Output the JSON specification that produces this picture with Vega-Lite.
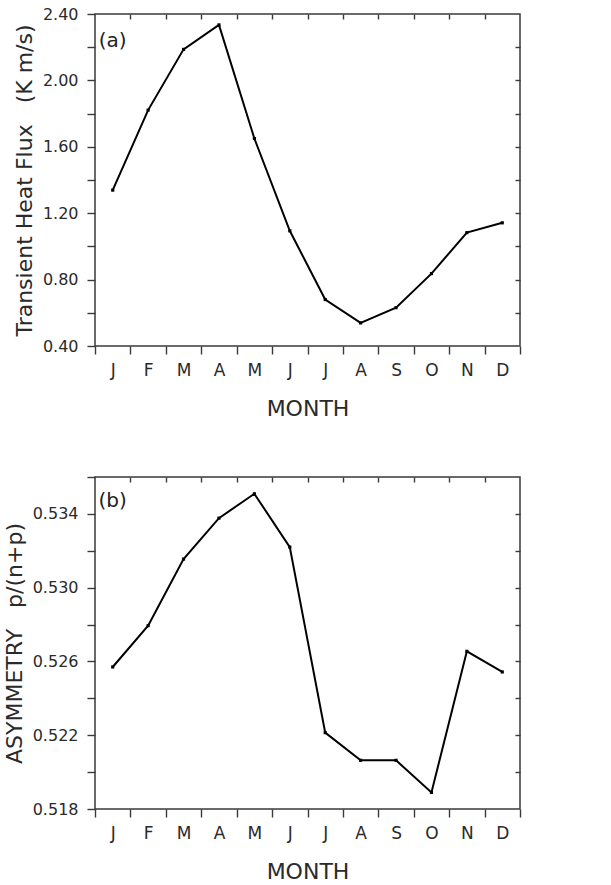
{
  "$schema": "https://vega.github.io/schema/vega-lite/v6.json",
  "padding": {"left": 2, "top": 5, "right": 5, "bottom": 2},
  "background": "white",
  "config": {
    "view": {"stroke": "#3a3a3a", "strokeWidth": 1.5},
    "font": "DejaVu Sans",
    "axis": {"grid": false, "domain": false, "tickColor": "#3a3a3a", "tickWidth": 1.4, "labelColor": "#2a2a2a", "titleColor": "#2a2a2a", "labelFont": "DejaVu Sans", "titleFont": "DejaVu Sans", "titleFontWeight": "normal", "labelFontSize": 16, "titleFontSize": 22, "labelFlush": false, "labelOverlap": false}
  },
  "datasets": {
    "d": [
      {"m": 1, "month": "Jan", "flux": 1.339, "asym": 0.5257},
      {"m": 2, "month": "Feb", "flux": 1.821, "asym": 0.52794},
      {"m": 3, "month": "Mar", "flux": 2.187, "asym": 0.53155},
      {"m": 4, "month": "Apr", "flux": 2.334, "asym": 0.53377},
      {"m": 5, "month": "May", "flux": 1.650, "asym": 0.53509},
      {"m": 6, "month": "Jun", "flux": 1.094, "asym": 0.5322},
      {"m": 7, "month": "Jul", "flux": 0.680, "asym": 0.52214},
      {"m": 8, "month": "Aug", "flux": 0.539, "asym": 0.52064},
      {"m": 9, "month": "Sep", "flux": 0.631, "asym": 0.52064},
      {"m": 10, "month": "Oct", "flux": 0.836, "asym": 0.5189},
      {"m": 11, "month": "Nov", "flux": 1.083, "asym": 0.52655},
      {"m": 12, "month": "Dec", "flux": 1.142, "asym": 0.52543}
    ]
  },
  "spacing": 48,
  "vconcat": [
    {
      "width": 425,
      "height": 332,
      "resolve": {"axis": {"x": "independent", "y": "independent"}},
      "layer": [
        {
          "data": {"name": "d"},
          "mark": {"type": "line", "color": "black", "strokeWidth": 2},
          "encoding": {
            "x": {"field": "m", "type": "quantitative", "scale": {"domain": [0.5, 12.5], "nice": false, "zero": false},
              "axis": {"orient": "bottom", "values": [0.5,1,1.5,2,2.5,3,3.5,4,4.5,5,5.5,6,6.5,7,7.5,8,8.5,9,9.5,10,10.5,11,11.5,12,12.5],
                "labelExpr": "datum.value % 1 === 0 ? ['J','F','M','A','M','J','J','A','S','O','N','D'][datum.value-1] : ''",
                "tickSize": 8, "tickOpacity": {"condition": {"test": "datum.value % 1 === 0", "value": 0}, "value": 1},
                "labelFontSize": 17, "labelPadding": 8, "title": "MONTH", "titleFontSize": 22, "titlePadding": 20}},
            "y": {"field": "flux", "type": "quantitative", "scale": {"domain": [0.4, 2.4], "nice": false, "zero": false},
              "axis": {"orient": "left", "values": [0.4,0.6,0.8,1.0,1.2,1.4,1.6,1.8,2.0,2.2,2.4],
                "labelExpr": "round(datum.value*10) % 4 === 0 ? format(datum.value, '.2f') : ''",
                "tickSize": 8, "labelPadding": 9, "title": "Transient Heat Flux\u00a0\u00a0\u00a0(K m/s)", "titlePadding": 6}}
          }
        },
        {
          "data": {"name": "d"},
          "mark": {"type": "point", "shape": "square", "filled": true, "color": "black", "size": 10, "opacity": 1},
          "encoding": {
            "x": {"field": "m", "type": "quantitative", "scale": {"domain": [0.5, 12.5], "nice": false, "zero": false},
              "axis": {"orient": "top", "values": [1.5,2.5,3.5,4.5,5.5,6.5,7.5,8.5,9.5,10.5,11.5], "labels": false, "tickSize": -5, "title": null}},
            "y": {"field": "flux", "type": "quantitative", "scale": {"domain": [0.4, 2.4], "nice": false, "zero": false},
              "axis": {"orient": "right", "values": [0.6,0.8,1.0,1.2,1.4,1.6,1.8,2.0,2.2], "labels": false, "tickSize": -5, "title": null}}
          }
        },
        {
          "data": {"values": [{"label": "(a)", "px": 1, "py": 2.24}]},
          "mark": {"type": "text", "fontSize": 20, "color": "#222", "align": "center", "baseline": "middle"},
          "encoding": {
            "text": {"field": "label"},
            "x": {"field": "px", "type": "quantitative", "axis": null},
            "y": {"field": "py", "type": "quantitative", "axis": null}
          }
        }
      ]
    },
    {
      "width": 425,
      "height": 332,
      "resolve": {"axis": {"x": "independent", "y": "independent"}},
      "layer": [
        {
          "data": {"name": "d"},
          "mark": {"type": "line", "color": "black", "strokeWidth": 2},
          "encoding": {
            "x": {"field": "m", "type": "quantitative", "scale": {"domain": [0.5, 12.5], "nice": false, "zero": false},
              "axis": {"orient": "bottom", "values": [0.5,1,1.5,2,2.5,3,3.5,4,4.5,5,5.5,6,6.5,7,7.5,8,8.5,9,9.5,10,10.5,11,11.5,12,12.5],
                "labelExpr": "datum.value % 1 === 0 ? ['J','F','M','A','M','J','J','A','S','O','N','D'][datum.value-1] : ''",
                "tickSize": 8, "tickOpacity": {"condition": {"test": "datum.value % 1 === 0", "value": 0}, "value": 1},
                "labelFontSize": 17, "labelPadding": 8, "title": "MONTH", "titleFontSize": 22, "titlePadding": 20}},
            "y": {"field": "asym", "type": "quantitative", "scale": {"domain": [0.518, 0.536], "nice": false, "zero": false},
              "axis": {"orient": "left", "values": [0.518,0.52,0.522,0.524,0.526,0.528,0.53,0.532,0.534,0.536],
                "labelExpr": "round(datum.value*1000) % 4 === 2 ? format(datum.value, '.3f') : ''",
                "tickSize": 8, "labelPadding": 9, "title": "ASYMMETRY\u00a0\u00a0\u00a0p/(n+p)", "titlePadding": 6}}
          }
        },
        {
          "data": {"name": "d"},
          "mark": {"type": "point", "shape": "square", "filled": true, "color": "black", "size": 10, "opacity": 1},
          "encoding": {
            "x": {"field": "m", "type": "quantitative", "scale": {"domain": [0.5, 12.5], "nice": false, "zero": false},
              "axis": {"orient": "top", "values": [1.5,2.5,3.5,4.5,5.5,6.5,7.5,8.5,9.5,10.5,11.5], "labels": false, "tickSize": -5, "title": null}},
            "y": {"field": "asym", "type": "quantitative", "scale": {"domain": [0.518, 0.536], "nice": false, "zero": false},
              "axis": {"orient": "right", "values": [0.52,0.522,0.524,0.526,0.528,0.53,0.532,0.534], "labels": false, "tickSize": -5, "title": null}}
          }
        },
        {
          "data": {"values": [{"label": "(b)", "px": 1, "py": 0.5347}]},
          "mark": {"type": "text", "fontSize": 20, "color": "#222", "align": "center", "baseline": "middle"},
          "encoding": {
            "text": {"field": "label"},
            "x": {"field": "px", "type": "quantitative", "axis": null},
            "y": {"field": "py", "type": "quantitative", "axis": null}
          }
        }
      ]
    }
  ]
}
